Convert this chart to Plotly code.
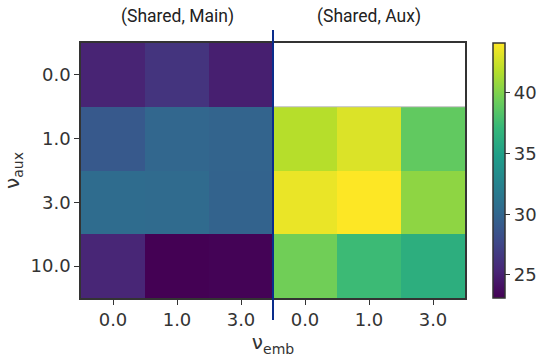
import plotly.graph_objects as go

nu_aux = ["0.0", "1.0", "3.0", "10.0"]
nu_emb = ["0.0", "1.0", "3.0"]
group_labels = ["(Shared, Main)", "(Shared, Aux)"]

main_vals = [
    [25.2, 26.3, 24.9],
    [29.0, 30.0, 29.8],
    [30.5, 30.4, 29.7],
    [25.3, 23.1, 23.2],
]
aux_vals = [
    [None, None, None],
    [41.8, 43.0, 38.9],
    [43.5, 44.1, 40.5],
    [39.5, 37.4, 36.3],
]

z = [m + a for m, a in zip(main_vals, aux_vals)]
xs = list(range(len(nu_emb) * 2))
ys = list(range(len(nu_aux)))
xticks = nu_emb + nu_emb

font_family = "DejaVu Sans"
fig = go.Figure(go.Heatmap(
    z=z, x=xs, y=ys, colorscale="Viridis", zmin=23.1, zmax=44.1,
    hoverongaps=False,
    colorbar=dict(
        thickness=12, len=1.0, lenmode="fraction", y=0.5, yanchor="middle",
        x=1.073, xanchor="left", xpad=0, ypad=0,
        outlinewidth=1.5, outlinecolor="#333",
        tickvals=[25, 30, 35, 40], ticks="outside", ticklen=5,
        tickcolor="#333", tickfont=dict(size=18, color="#333", family=font_family),
    ),
))

fig.add_shape(type="line", xref="x", yref="y", x0=2.5, x1=5.5, y0=0.5, y1=0.5,
              line=dict(color="#bbbbbb", width=1))
fig.add_shape(type="line", xref="x", yref="paper", x0=2.5, x1=2.5, y0=-0.086, y1=1.051,
              line=dict(color="#0a2d8c", width=2))

for i, lab in enumerate(group_labels):
    fig.add_annotation(x=1 + 3 * i, y=1.0, xref="x", yref="paper", yanchor="bottom",
                       yshift=14, text=lab, showarrow=False,
                       font=dict(size=17.5, color="#222", family="Roboto"))

fig.update_layout(
    width=540, height=360,
    margin=dict(l=81, r=75, t=43, b=62, autoexpand=False),
    paper_bgcolor="white", plot_bgcolor="white",
    font=dict(family=font_family, color="#333"),
    showlegend=False,
)
fig.update_xaxes(
    tickvals=xs, ticktext=xticks, range=[-0.5, 5.5], showgrid=False, zeroline=False,
    ticks="outside", ticklen=5, tickcolor="#333", tickfont=dict(size=18, color="#333"),
    showline=True, linecolor="#333", linewidth=1.5, mirror=True,
    title=dict(text="ν<sub>emb</sub>", font=dict(size=20, color="#333"), standoff=4),
)
fig.update_yaxes(
    tickvals=ys, ticktext=nu_aux, range=[3.5, -0.5], showgrid=False, zeroline=False,
    ticks="outside", ticklen=5, tickcolor="#333", tickfont=dict(size=18, color="#333"),
    showline=True, linecolor="#333", linewidth=1.5, mirror=True,
    title=dict(text="ν<sub>aux</sub>", font=dict(size=20, color="#333"), standoff=6),
)

fig.write_html("out.html", config={"displayModeBar": False},
               post_script="document.body.style.margin='0';")
